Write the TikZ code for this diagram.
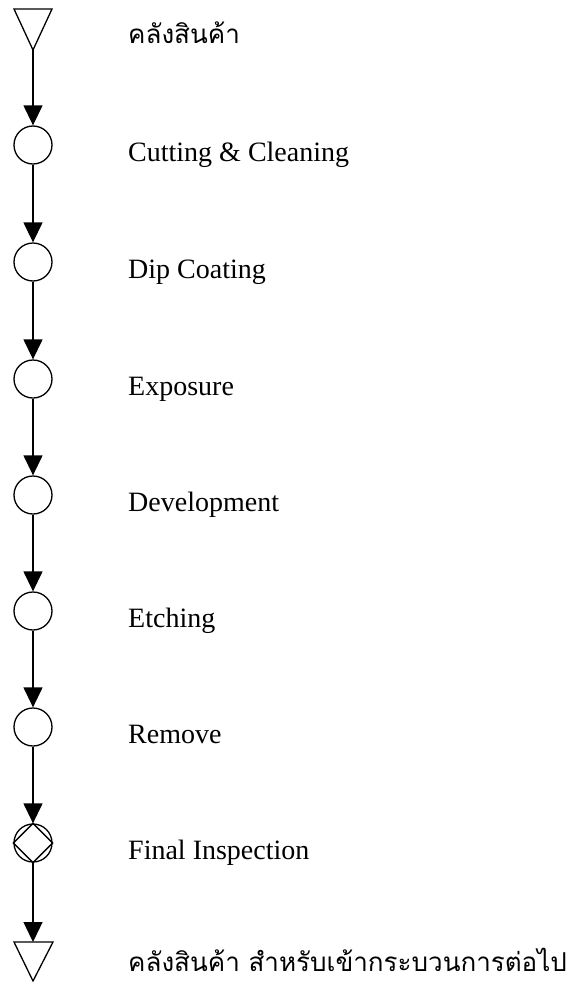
\documentclass[tikz,border=0pt]{standalone}
\usepackage{fontspec}
\setmainfont{Liberation Serif}
\newfontfamily\thaifont[Script=Thai]{Loma}
\usetikzlibrary{arrows.meta}
\begin{document}
\begin{tikzpicture}[x=1pt,y=-1pt,
  op/.style={circle,draw,line width=1.3pt,minimum size=38pt,inner sep=0pt},
  lbl/.style={anchor=base west,inner sep=0pt,font=\fontsize{28}{32}\selectfont},
  thlbl/.style={anchor=base west,inner sep=0pt,text depth=0pt,font=\thaifont\fontsize{26}{30}\selectfont},
  flow/.style={line width=1.3pt,-{Triangle[width=19pt,length=20pt]}},
  tri/.style={line width=1.3pt,line join=miter}]
\useasboundingbox (0,0) rectangle (584,982);
% top storage triangle
\coordinate (s0a) at (14,9);
\coordinate (s0b) at (52,9);
\coordinate (s0) at (33,50);
\draw[tri] (s0a) -- (s0b) -- (s0) -- cycle;
\node[thlbl] (l0) at (128,44) {คลังสินค้า};
% operations
\node[op] (c1) at (33,145) {};
\node[op] (c2) at (33,262) {};
\node[op] (c3) at (33,379) {};
\node[op] (c4) at (33,495) {};
\node[op] (c5) at (33,611) {};
\node[op] (c6) at (33,727) {};
\node[op] (c7) at (33,843) {};
\draw[line width=1.3pt] (c7.north) -- (c7.east) -- (c7.south) -- (c7.west) -- cycle;
\node[lbl] (l1) at (128,161) {Cutting \& Cleaning};
\node[lbl] (l2) at (128,278) {Dip Coating};
\node[lbl] (l3) at (128,395) {Exposure};
\node[lbl] (l4) at (128,511) {Development};
\node[lbl] (l5) at (128,627) {Etching};
\node[lbl] (l6) at (128,743) {Remove};
\node[lbl] (l7) at (128,859) {Final Inspection};
% bottom storage triangle
\coordinate (s8) at (33,942);
\coordinate (s8a) at (14,942);
\coordinate (s8b) at (53,942);
\coordinate (s8c) at (33,981);
\draw[tri] (s8a) -- (s8b) -- (s8c) -- cycle;
\node[thlbl] (l8) at (128,971) {คลังสินค้า สำหรับเข้ากระบวนการต่อไป};
% connectors
\draw[flow] (s0) -- (c1.north);
\draw[flow] (c1.south) -- (c2.north);
\draw[flow] (c2.south) -- (c3.north);
\draw[flow] (c3.south) -- (c4.north);
\draw[flow] (c4.south) -- (c5.north);
\draw[flow] (c5.south) -- (c6.north);
\draw[flow] (c6.south) -- (c7.north);
\draw[flow] (c7.south) -- (s8);
\end{tikzpicture}
\end{document}
